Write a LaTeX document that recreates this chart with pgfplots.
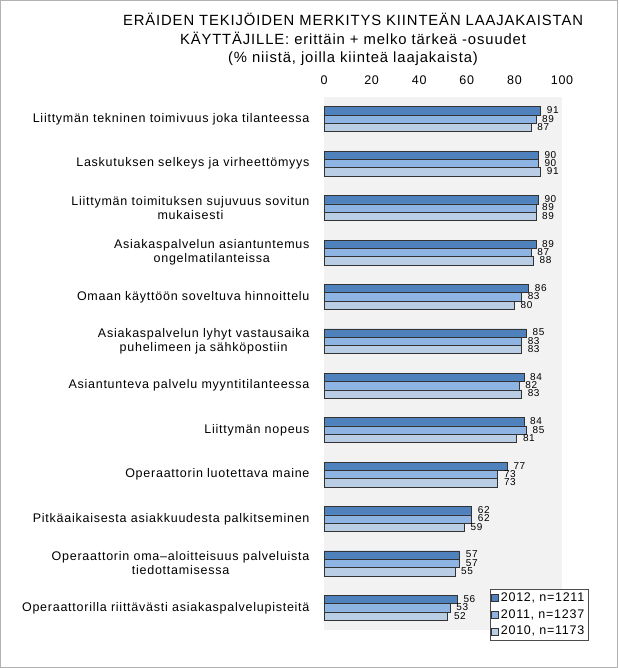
\documentclass[border=0pt]{standalone}
\usepackage{fontspec}
\setmainfont{Liberation Sans}
\newfontfamily\spfont[LetterSpace=6]{Liberation Sans}
\usepackage{pgfplots}
\pgfplotsset{compat=1.18}
\definecolor{c12}{RGB}{79,129,189}
\definecolor{c11}{RGB}{141,180,226}
\definecolor{c10}{RGB}{185,205,229}
\definecolor{bgc}{RGB}{242,242,242}
\begin{document}
\begin{tikzpicture}[x=1pt,y=1pt]
\draw[black!30, line width=0.8pt] (0.4,0.4) rectangle (617.6,667.6);
\node[align=center, font=\spfont\fontsize{14.8}{18.5}\selectfont] at (353,628.5) {ERÄIDEN TEKIJÖIDEN MERKITYS KIINTEÄN LAAJAKAISTAN\\KÄYTTÄJILLE: erittäin + melko tärkeä -osuudet\\(\% niistä, joilla kiinteä laajakaista)};
\begin{axis}[
  at={(324pt,38pt)}, anchor=south west,
  scale only axis, width=238pt, height=533pt,
  xbar=0pt, bar width=8.3pt,
  xmin=0, xmax=100, ymin=-0.5, ymax=11.5,
  y dir=reverse,
  ytick={0,...,11},
  yticklabels={
    {Liittymän tekninen toimivuus joka tilanteessa},
    {Laskutuksen selkeys ja virheettömyys},
    {Liittymän toimituksen sujuvuus sovitun\\mukaisesti},
    {Asiakaspalvelun asiantuntemus\\ongelmatilanteissa},
    {Omaan käyttöön soveltuva hinnoittelu},
    {Asiakaspalvelun lyhyt vastausaika\\puhelimeen ja sähköpostiin},
    {Asiantunteva palvelu myyntitilanteessa},
    {Liittymän nopeus},
    {Operaattorin luotettava maine},
    {Pitkäaikaisesta asiakkuudesta palkitseminen},
    {Operaattorin oma–aloitteisuus palveluista\\tiedottamisessa},
    {Operaattorilla riittävästi asiakaspalvelupisteitä}},
  y tick label style={align=center, font=\spfont\fontsize{12.5}{14}\selectfont, xshift=-11pt},
  xtick={0,20,...,100},
  xticklabel pos=top,
  x tick label style={font=\spfont\fontsize{12.5}{14}\selectfont, yshift=9pt},
  /pgf/number format/assume math mode=true,
  axis line style={draw=none},
  major tick length=0pt,
  axis background/.style={fill=bgc},
  clip=false,
  point meta=x,
  nodes near coords,
  nodes near coords align={horizontal},
  every node near coord/.append style={font=\spfont\fontsize{10}{10}\selectfont, anchor=west, xshift=6pt, yshift=0.5pt, inner sep=0pt},
  legend style={at={(1.109,-0.019)}, anchor=south east, draw=black!70, font=\spfont\fontsize{12.5}{15}\selectfont, inner sep=1.5pt, legend cell align=left, row sep=2.5pt},
]
\addplot[bar shift=8.3pt, fill=c12, draw=black!80, line width=0.6pt, legend image code/.code={\draw[fill=c12, draw=black!80] (0pt,-3.5pt) rectangle (7pt,3.5pt);}] coordinates {
(91,0) (90,1) (90,2) (89,3) (86,4) (85,5) (84,6) (84,7) (77,8) (62,9) (57,10) (56,11)};
\addplot[bar shift=0pt, fill=c11, draw=black!80, line width=0.6pt, legend image code/.code={\draw[fill=c11, draw=black!80] (0pt,-3.5pt) rectangle (7pt,3.5pt);}] coordinates {
(89,0) (90,1) (89,2) (87,3) (83,4) (83,5) (82,6) (85,7) (73,8) (62,9) (57,10) (53,11)};
\addplot[bar shift=-8.3pt, fill=c10, draw=black!80, line width=0.6pt, legend image code/.code={\draw[fill=c10, draw=black!80] (0pt,-3.5pt) rectangle (7pt,3.5pt);}] coordinates {
(87,0) (91,1) (89,2) (88,3) (80,4) (83,5) (83,6) (81,7) (73,8) (59,9) (55,10) (52,11)};
\legend{{2012, n=1211},{2011, n=1237},{2010, n=1173}}
\end{axis}
\end{tikzpicture}
\end{document}
